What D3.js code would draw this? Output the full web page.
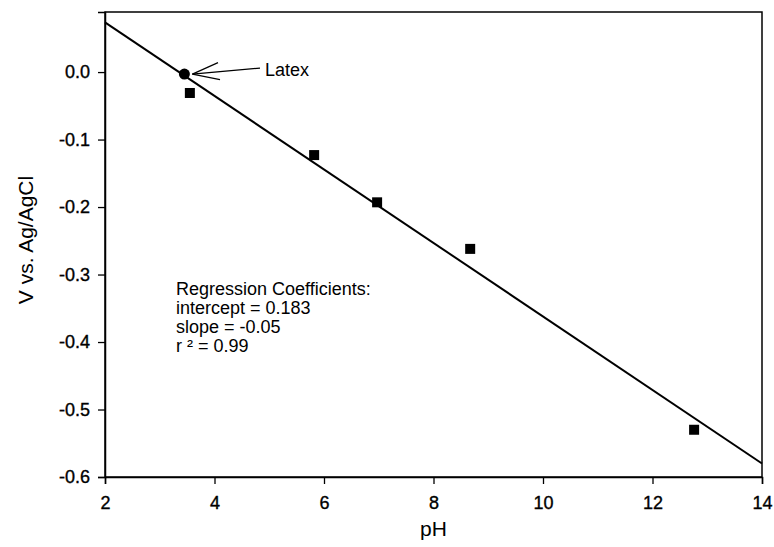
<!DOCTYPE html>
<html lang="en">
<head>
<meta charset="UTF-8">
<title>V vs. Ag/AgCl vs pH</title>
<script src="https://d3js.org/d3.v7.min.js"></script>
<style>
  body { margin: 0; background: #fff; }
  svg text { font-family: "Liberation Sans", Arial, sans-serif; fill: #000; }
</style>
</head>
<body>
<div id="chart"></div>
<script>
// data
const squarePH = [3.55, 5.82, 6.97, 8.67, 12.76];
const squareV = [-0.031, -0.123, -0.193, -0.262, -0.530];
const latexPH = [3.45];
const latexV = [-0.003];
const fitPH = [2, 14];
const fitV = [0.0736, -0.580];
const xTicks = [2, 4, 6, 8, 10, 12, 14];
const yTicks = [0.0, -0.1, -0.2, -0.3, -0.4, -0.5, -0.6];
const regressionLines = ["Regression Coefficients:", "intercept = 0.183", "slope = -0.05", "r ² = 0.99"];

const width = 774, height = 547;
const margin = {top: 12, right: 12, bottom: 70, left: 105};

const svg = d3.select("#chart").append("svg")
    .attr("width", width)
    .attr("height", height);

const x = d3.scaleLinear().domain([2, 14]).range([margin.left, width - margin.right]);
const y = d3.scaleLinear().domain([-0.6, 0.089]).range([height - margin.bottom, margin.top]);

// frame
svg.append("rect")
    .attr("x", x(2)).attr("y", y(0.089))
    .attr("width", x(14) - x(2)).attr("height", y(-0.6) - y(0.089))
    .attr("fill", "none").attr("stroke", "#000").attr("stroke-width", 1.5);

const xAxis = svg.append("g")
    .attr("transform", `translate(0,${y(-0.6)})`)
    .call(d3.axisBottom(x).tickValues(xTicks).tickSize(7).tickFormat(d3.format("d")));
const yAxis = svg.append("g")
    .attr("transform", `translate(${x(2)},0)`)
    .call(d3.axisLeft(y).tickValues(yTicks).tickSize(7).tickPadding(8).tickFormat(d3.format(".1f")));

[xAxis, yAxis].forEach(g => {
    g.select(".domain").attr("stroke-width", 1.5);
    g.selectAll(".tick line").attr("stroke-width", 1.3);
    g.selectAll(".tick text")
        .attr("font-size", 18)
        .style("font-family", "'Liberation Sans', Arial, sans-serif")
        .attr("stroke", "#000").attr("stroke-width", 0.35);
});
yAxis.selectAll(".tick text").text(d => d3.format(".1f")(d).replace("−", "-"));
xAxis.selectAll(".tick text").attr("y", 509 - y(-0.6)).attr("dy", 0);

// axis titles
svg.append("text")
    .attr("x", (x(2) + x(14)) / 2).attr("y", 536)
    .attr("text-anchor", "middle").attr("font-size", 21)
    .text("pH");
svg.append("text")
    .attr("transform", `translate(33,240) rotate(-90)`)
    .attr("text-anchor", "middle").attr("font-size", 21)
    .text("V vs. Ag/AgCl");

// regression line
svg.append("line")
    .attr("x1", x(fitPH[0])).attr("y1", y(fitV[0]))
    .attr("x2", x(fitPH[1])).attr("y2", y(fitV[1]))
    .attr("stroke", "#000").attr("stroke-width", 2);

// square points
const sq = 10;
svg.selectAll(".sq")
    .data(squarePH.map((p, i) => [p, squareV[i]]))
    .enter().append("rect")
    .attr("class", "sq")
    .attr("x", d => x(d[0]) - sq / 2)
    .attr("y", d => y(d[1]) - sq / 2)
    .attr("width", sq).attr("height", sq)
    .attr("fill", "#000");

// latex point
svg.selectAll(".latex")
    .data(latexPH.map((p, i) => [p, latexV[i]]))
    .enter().append("circle")
    .attr("class", "latex")
    .attr("cx", d => x(d[0])).attr("cy", d => y(d[1]))
    .attr("r", 5.5).attr("fill", "#000");

// annotation arrow
const tipX = x(latexPH[0]) + 8, tipY = y(latexV[0]);
const arrow = svg.append("g").attr("stroke", "#000").attr("stroke-width", 1.2);
arrow.append("line").attr("x1", tipX).attr("y1", tipY).attr("x2", 260).attr("y2", tipY - 6);
arrow.append("line").attr("x1", tipX).attr("y1", tipY).attr("x2", 218).attr("y2", tipY - 11.5);
arrow.append("line").attr("x1", tipX).attr("y1", tipY).attr("x2", 220).attr("y2", tipY + 5.5);
svg.append("text")
    .attr("x", 265).attr("y", tipY + 1.5).attr("font-size", 18)
    .text("Latex");

// regression text
svg.append("g").selectAll("text")
    .data(regressionLines)
    .enter().append("text")
    .attr("x", 176)
    .attr("y", (d, i) => 295 + i * 19)
    .attr("font-size", 18)
    .text(d => d);
</script>
</body>
</html>
